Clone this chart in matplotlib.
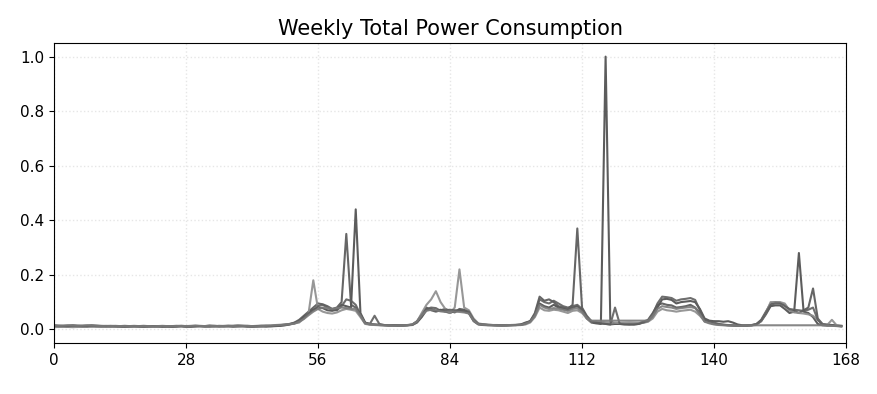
import numpy as np
import matplotlib.pyplot as plt

# hourly total power (normalised), one list per week, hours 0..167
week_1 = [0.012, 0.011, 0.012, 0.010, 0.011, 0.012, 0.011, 0.010, 0.011, 0.012, 0.011, 0.010,
          0.011, 0.010, 0.010, 0.009, 0.010, 0.011, 0.010, 0.009, 0.010, 0.010, 0.011, 0.010,
          0.010, 0.009, 0.010, 0.011, 0.010, 0.010, 0.011, 0.012, 0.011, 0.010, 0.011, 0.013,
          0.012, 0.011, 0.010, 0.011, 0.012, 0.011, 0.010, 0.010, 0.011, 0.012, 0.011, 0.012,
          0.013, 0.015, 0.018, 0.022, 0.030, 0.045, 0.060, 0.072, 0.080, 0.078, 0.070, 0.068,
          0.072, 0.090, 0.085, 0.080, 0.440, 0.060, 0.025, 0.020, 0.018, 0.017, 0.016, 0.015,
          0.015, 0.014, 0.014, 0.015, 0.016, 0.025, 0.045, 0.070, 0.075, 0.068, 0.072, 0.065,
          0.060, 0.068, 0.070, 0.065, 0.060, 0.035, 0.020, 0.018, 0.017, 0.016, 0.016, 0.015,
          0.015, 0.016, 0.016, 0.018, 0.025, 0.030, 0.050, 0.095, 0.085, 0.080, 0.090, 0.080,
          0.075, 0.070, 0.080, 0.085, 0.070, 0.040, 0.025, 0.022, 0.020, 1.000, 0.030, 0.020,
          0.020, 0.019, 0.020, 0.018, 0.020, 0.025, 0.030, 0.045, 0.080, 0.110, 0.112, 0.108,
          0.095, 0.100, 0.102, 0.104, 0.100, 0.075, 0.040, 0.032, 0.030, 0.030, 0.028, 0.030,
          0.025, 0.018, 0.015, 0.014, 0.015, 0.018, 0.030, 0.055, 0.085, 0.088, 0.088, 0.075,
          0.060, 0.065, 0.280, 0.065, 0.060, 0.045, 0.020, 0.015, 0.014, 0.015, 0.013, 0.012]

week_2 = [0.015, 0.014, 0.013, 0.014, 0.015, 0.014, 0.013, 0.014, 0.015, 0.014, 0.013, 0.012,
          0.013, 0.012, 0.012, 0.013, 0.012, 0.011, 0.012, 0.013, 0.012, 0.011, 0.012, 0.012,
          0.011, 0.012, 0.013, 0.012, 0.011, 0.012, 0.013, 0.012, 0.011, 0.012, 0.013, 0.012,
          0.011, 0.012, 0.013, 0.014, 0.013, 0.012, 0.011, 0.012, 0.013, 0.012, 0.013, 0.014,
          0.015, 0.018, 0.020, 0.025, 0.035, 0.050, 0.065, 0.080, 0.095, 0.092, 0.085, 0.075,
          0.080, 0.100, 0.350, 0.090, 0.080, 0.050, 0.022, 0.018, 0.017, 0.016, 0.015, 0.014,
          0.014, 0.015, 0.014, 0.015, 0.018, 0.030, 0.055, 0.080, 0.070, 0.065, 0.070, 0.075,
          0.068, 0.062, 0.075, 0.072, 0.060, 0.030, 0.018, 0.016, 0.015, 0.015, 0.014, 0.015,
          0.016, 0.015, 0.016, 0.017, 0.020, 0.030, 0.060, 0.120, 0.105, 0.110, 0.100, 0.085,
          0.080, 0.075, 0.090, 0.370, 0.080, 0.050, 0.030, 0.025, 0.022, 0.020, 0.018, 0.020,
          0.022, 0.020, 0.019, 0.020, 0.022, 0.028, 0.035, 0.060, 0.090, 0.095, 0.090, 0.088,
          0.080, 0.082, 0.085, 0.090, 0.080, 0.060, 0.030, 0.025, 0.020, 0.018, 0.017, 0.016,
          0.015, 0.014, 0.014, 0.015, 0.016, 0.020, 0.035, 0.065, 0.095, 0.100, 0.098, 0.090,
          0.070, 0.068, 0.060, 0.070, 0.080, 0.150, 0.040, 0.020, 0.018, 0.016, 0.014, 0.013]

week_3 = [0.008, 0.009, 0.010, 0.009, 0.008, 0.009, 0.010, 0.011, 0.010, 0.009, 0.010, 0.011,
          0.010, 0.011, 0.012, 0.011, 0.010, 0.009, 0.010, 0.011, 0.010, 0.009, 0.010, 0.011,
          0.010, 0.011, 0.012, 0.013, 0.012, 0.011, 0.012, 0.011, 0.012, 0.015, 0.013, 0.012,
          0.013, 0.014, 0.013, 0.015, 0.014, 0.013, 0.012, 0.013, 0.014, 0.015, 0.014, 0.016,
          0.017, 0.018, 0.020, 0.022, 0.025, 0.040, 0.060, 0.180, 0.075, 0.065, 0.060, 0.058,
          0.062, 0.070, 0.075, 0.072, 0.068, 0.045, 0.020, 0.017, 0.016, 0.015, 0.015, 0.014,
          0.014, 0.013, 0.014, 0.015, 0.017, 0.028, 0.060, 0.090, 0.110, 0.140, 0.100, 0.075,
          0.060, 0.080, 0.220, 0.080, 0.070, 0.040, 0.022, 0.019, 0.017, 0.016, 0.015, 0.015,
          0.015, 0.016, 0.017, 0.016, 0.018, 0.025, 0.045, 0.080, 0.070, 0.068, 0.072, 0.070,
          0.065, 0.060, 0.068, 0.070, 0.060, 0.040, 0.026, 0.030, 0.028, 0.026, 0.025, 0.024,
          0.023, 0.024, 0.025, 0.024, 0.023, 0.024, 0.028, 0.040, 0.065, 0.075, 0.070, 0.068,
          0.065, 0.068, 0.070, 0.072, 0.065, 0.050, 0.030, 0.025, 0.020, 0.018, 0.016, 0.015,
          0.014, 0.013, 0.014, 0.015, 0.016, 0.018, 0.030, 0.060, 0.100, 0.100, 0.100, 0.095,
          0.070, 0.062, 0.060, 0.058, 0.055, 0.050, 0.035, 0.018, 0.016, 0.035, 0.015, 0.013]

week_4 = [0.013, 0.012, 0.011, 0.012, 0.013, 0.012, 0.011, 0.012, 0.013, 0.012, 0.011, 0.012,
          0.011, 0.012, 0.011, 0.010, 0.011, 0.012, 0.011, 0.010, 0.011, 0.012, 0.011, 0.010,
          0.011, 0.010, 0.011, 0.012, 0.011, 0.010, 0.011, 0.012, 0.011, 0.012, 0.011, 0.010,
          0.011, 0.012, 0.011, 0.012, 0.011, 0.010, 0.011, 0.012, 0.011, 0.010, 0.012, 0.013,
          0.014, 0.016, 0.019, 0.024, 0.030, 0.042, 0.058, 0.070, 0.085, 0.090, 0.080, 0.072,
          0.070, 0.085, 0.110, 0.105, 0.090, 0.055, 0.024, 0.020, 0.050, 0.020, 0.016, 0.015,
          0.015, 0.014, 0.015, 0.016, 0.017, 0.027, 0.050, 0.075, 0.080, 0.078, 0.068, 0.070,
          0.072, 0.070, 0.068, 0.070, 0.065, 0.035, 0.020, 0.018, 0.016, 0.015, 0.015, 0.014,
          0.014, 0.015, 0.016, 0.017, 0.022, 0.030, 0.055, 0.110, 0.100, 0.095, 0.105, 0.095,
          0.085, 0.080, 0.085, 0.090, 0.075, 0.045, 0.028, 0.025, 0.022, 0.020, 0.018, 0.080,
          0.020, 0.018, 0.017, 0.018, 0.020, 0.026, 0.032, 0.055, 0.095, 0.120, 0.118, 0.115,
          0.105, 0.110, 0.112, 0.115, 0.108, 0.070, 0.035, 0.030, 0.025, 0.020, 0.017, 0.015,
          0.014, 0.013, 0.013, 0.014, 0.015, 0.019, 0.032, 0.060, 0.090, 0.095, 0.095, 0.085,
          0.075, 0.072, 0.070, 0.068, 0.072, 0.080, 0.035, 0.018, 0.015, 0.014, 0.013, 0.012]

week_5 = [0.014, 0.013, 0.014, 0.015, 0.014, 0.013, 0.014, 0.015, 0.014, 0.013, 0.012, 0.013,
          0.012, 0.013, 0.012, 0.011, 0.012, 0.013, 0.012, 0.011, 0.012, 0.011, 0.012, 0.013,
          0.012, 0.011, 0.012, 0.013, 0.012, 0.013, 0.014, 0.013, 0.012, 0.013, 0.012, 0.011,
          0.012, 0.013, 0.012, 0.011, 0.012, 0.013, 0.012, 0.011, 0.012, 0.013, 0.014, 0.015,
          0.016, 0.017, 0.019, 0.021, 0.028, 0.038, 0.052, 0.065, 0.075, 0.080, 0.078, 0.075,
          0.078, 0.080, 0.078, 0.076, 0.075, 0.050, 0.022, 0.019, 0.017, 0.016, 0.015, 0.015,
          0.014, 0.014, 0.015, 0.016, 0.018, 0.029, 0.052, 0.068, 0.072, 0.070, 0.066, 0.064,
          0.066, 0.065, 0.064, 0.062, 0.058, 0.032, 0.019, 0.017, 0.016, 0.016, 0.015, 0.014,
          0.015, 0.016, 0.015, 0.016, 0.021, 0.028, 0.050, 0.090, 0.080, 0.075, 0.078, 0.076,
          0.072, 0.068, 0.075, 0.078, 0.065, 0.042, 0.032, 0.032, 0.032, 0.032, 0.032, 0.032,
          0.032, 0.032, 0.032, 0.032, 0.032, 0.032, 0.032, 0.050, 0.075, 0.085, 0.082, 0.080,
          0.075, 0.078, 0.080, 0.082, 0.078, 0.055, 0.028, 0.022, 0.018, 0.016, 0.015, 0.014,
          0.014, 0.013, 0.013, 0.014, 0.014, 0.015, 0.015, 0.015, 0.015, 0.015, 0.015, 0.015,
          0.015, 0.015, 0.015, 0.015, 0.015, 0.015, 0.015, 0.015, 0.014, 0.013, 0.012, 0.010]

weeks = [week_1, week_2, week_3, week_4, week_5]
line_colors = ['#4a4a4a', '#555555', '#8c8c8c', '#5e5e5e', '#7a7a7a']
hour_ticks = [0, 28, 56, 84, 112, 140, 168]

fig = plt.figure(figsize=(8.78, 3.94), dpi=100)
ax = fig.add_axes([0.0615, 0.1294, 0.9021, 0.7615])

hours = np.arange(len(week_1))
for w, c in zip(weeks, line_colors):
    ax.plot(hours, w, color=c, linewidth=1.5, alpha=0.9)

ax.set_xlim(0, 168)
ax.set_ylim(-0.05, 1.05)
ax.set_xticks(hour_ticks)
ax.set_yticks([0.0, 0.2, 0.4, 0.6, 0.8, 1.0])
ax.tick_params(labelsize=11)
ax.grid(True, linestyle=':', color='#e6e6e6', linewidth=1)
ax.set_title('Weekly Total Power Consumption', fontsize=15)

fig.savefig('out.png', dpi=100)
